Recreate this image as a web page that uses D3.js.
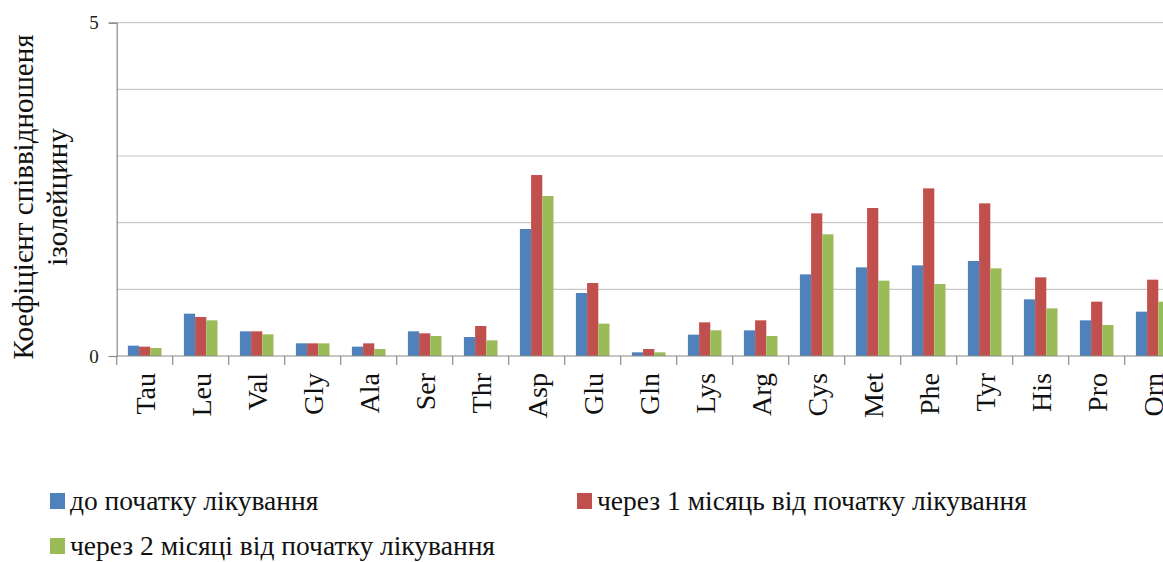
<!DOCTYPE html>
<html><head><meta charset="utf-8">
<script src="https://cdn.jsdelivr.net/npm/d3@7"></script>
<style>
html,body{margin:0;padding:0;background:#fff;overflow:hidden;}
svg{display:block;}
</style></head>
<body><svg id="c" width="1163" height="562"></svg>
<script>
const categories = ["Tau","Leu","Val","Gly","Ala","Ser","Thr","Asp","Glu","Gln","Lys","Arg","Cys","Met","Phe","Tyr","His","Pro","Orn"];
const seriesNames = ["до початку лікування","через 1 місяць від початку лікування","через 2 місяці від початку лікування"];
const before  = [0.155,0.635,0.37,0.19,0.14,0.37,0.285,1.905,0.945,0.055,0.32,0.385,1.225,1.33,1.36,1.425,0.85,0.535,0.665];
const month1  = [0.14,0.585,0.37,0.19,0.19,0.34,0.45,2.715,1.095,0.105,0.505,0.535,2.14,2.22,2.515,2.29,1.18,0.815,1.145];
const month2  = [0.12,0.535,0.325,0.19,0.105,0.30,0.235,2.40,0.485,0.055,0.385,0.30,1.825,1.13,1.08,1.315,0.715,0.465,0.815];
const colors = ["#4F81BD","#C0504D","#9BBB59"];
const majorTicks = [0,5];
const gridTicks = [1,2,3,4,5];
const yTitle = ["Коефіцієнт співвідношеня","ізолейцину"];

const FONT = "Liberation Serif";
const values = [before, month1, month2];
const svg = d3.select("#c");
const x0Left = 116.7, step = 56;
const x0 = d3.scaleBand().domain(categories).range([x0Left, x0Left + step*categories.length]).paddingInner(0).paddingOuter(0);
const x1 = d3.scaleBand().domain(d3.range(3)).range([0, x0.bandwidth()]).paddingInner(0).paddingOuter(1);
const y = d3.scaleLinear().domain([0,5]).range([356, 22.7]);

// gridlines
svg.append("g").selectAll("line").data(gridTicks).join("line")
  .attr("x1", x0Left).attr("x2", 1163)
  .attr("y1", d=>y(d)).attr("y2", d=>y(d))
  .attr("stroke", "#c8c8c8").attr("stroke-width", 1.2);

// bars
const g = svg.append("g");
categories.forEach((c,i)=>{
  values.forEach((s,k)=>{
    g.append("rect")
      .attr("x", x0(c)+x1(k)).attr("width", x1.bandwidth())
      .attr("y", y(s[i])).attr("height", y(0)-y(s[i]))
      .attr("fill", colors[k]);
  });
});

// y axis
const yAxis = d3.axisLeft(y).tickValues(majorTicks).tickSize(8).tickPadding(10).tickFormat(d3.format("d"));
const ya = svg.append("g").attr("transform", `translate(${x0Left},0)`).call(yAxis);
ya.select(".domain").attr("stroke","#8a8a8a").attr("stroke-width",1.2);
ya.selectAll(".tick line").attr("stroke","#8a8a8a").attr("stroke-width",1.2);
ya.selectAll(".tick text").style("font-size","19px").style("font-family",FONT).attr("fill","#222");

// x axis
const xa = svg.append("g").attr("transform", `translate(0,${y(0)})`);
xa.append("line").attr("x1", x0Left).attr("x2", 1163).attr("stroke","#8a8a8a").attr("stroke-width",1.2);
xa.selectAll(".tk").data(categories.concat(["_end"])).join("line")
  .attr("x1", (d,i)=>x0Left + i*x0.step()).attr("x2",(d,i)=>x0Left + i*x0.step())
  .attr("y1",0).attr("y2",9).attr("stroke","#8a8a8a").attr("stroke-width",1.2);
xa.selectAll("text").data(categories).join("text")
  .attr("transform", d=>`translate(${x0(d)+x0.bandwidth()/2},17) rotate(-90)`)
  .attr("text-anchor","end").attr("dy","0.35em")
  .style("font-size","28px").style("font-family",FONT).attr("fill","#111").text(d=>d);

// y title
svg.append("g").selectAll("text").data(yTitle).join("text")
  .attr("transform", (d,i)=>`translate(${33 + i*34},197) rotate(-90)`)
  .attr("text-anchor","middle").style("font-size","29px").style("font-family",FONT).attr("fill","#111").text(d=>d);

// legend
const legPos = [[50,493],[577,493],[50,538]];
const lg = svg.append("g");
seriesNames.forEach((n,k)=>{
  lg.append("rect").attr("x", legPos[k][0]).attr("y", legPos[k][1]).attr("width",15).attr("height",16).attr("fill",colors[k]);
  lg.append("text").attr("x", legPos[k][0]+20).attr("y", legPos[k][1]+17)
    .style("font-size","27.5px").style("font-family",FONT).attr("fill","#111").text(n);
});
</script></body></html>
